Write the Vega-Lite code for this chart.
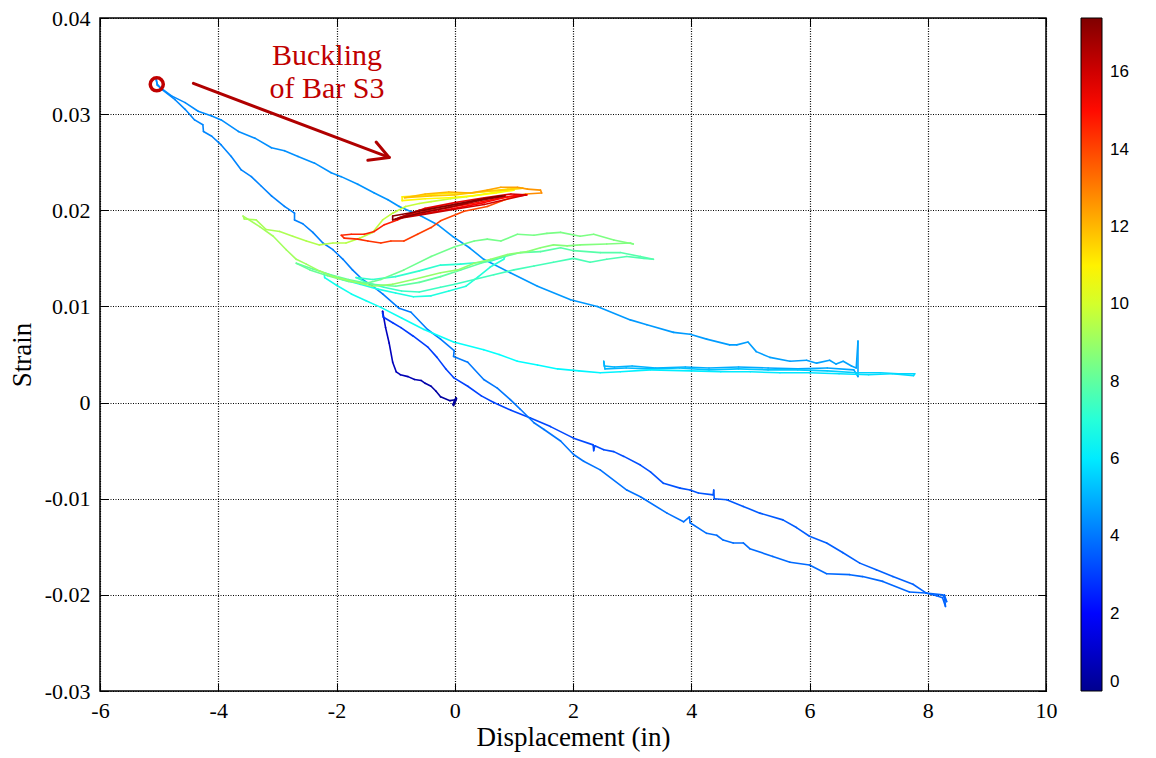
{
  "$schema": "https://vega.github.io/schema/vega-lite/v6.json",
  "width": 946,
  "height": 673,
  "autosize": {"type": "none"},
  "padding": {"left": 100, "top": 18, "right": 110, "bottom": 67},
  "background": "white",
  "config": {"view": {"stroke": "black", "strokeWidth": 1.5}},
  "datasets": {
    "path": [
      {"x":0.00,"y":0.0000,"t":0.00},{"x":0.03,"y":0.0004,"t":0.05},{"x":-0.02,"y":-0.0003,"t":0.10},{"x":0.02,"y":0.0005,"t":0.15},{"x":-0.03,"y":-0.0002,"t":0.20},{"x":0.01,"y":0.0003,"t":0.25},{"x":-0.08,"y":0.0002,"t":0.30},{"x":-0.24,"y":0.0006,"t":0.35},{"x":-0.32,"y":0.0012,"t":0.40},{"x":-0.40,"y":0.0017,"t":0.45},{"x":-0.50,"y":0.0020,"t":0.50},{"x":-0.57,"y":0.0023,"t":0.55},{"x":-0.68,"y":0.0024,"t":0.60},{"x":-0.79,"y":0.0027,"t":0.65},{"x":-0.92,"y":0.0029,"t":0.70},{"x":-0.99,"y":0.0032,"t":0.75},{"x":-1.05,"y":0.0042,"t":0.80},{"x":-1.11,"y":0.0062,"t":0.85},{"x":-1.17,"y":0.0078,"t":0.88},{"x":-1.22,"y":0.0095,"t":0.91},
      {"x":-1.22,"y":0.0093,"t":2.90},{"x":-1.21,"y":0.0089,"t":2.92},{"x":-1.05,"y":0.0083,"t":2.94},{"x":-0.91,"y":0.0078,"t":2.96},{"x":-0.70,"y":0.0069,"t":2.98},{"x":-0.46,"y":0.0058,"t":3.00},{"x":-0.30,"y":0.0047,"t":3.02},{"x":-0.15,"y":0.0035,"t":3.04},{"x":-0.02,"y":0.0026,"t":3.06},{"x":0.22,"y":0.0017,"t":3.08},{"x":0.45,"y":0.0007,"t":3.10},{"x":0.66,"y":0.0000,"t":3.12},{"x":0.95,"y":-0.0008,"t":3.14},{"x":1.28,"y":-0.0016,"t":3.16},{"x":1.62,"y":-0.0025,"t":3.18},{"x":2.01,"y":-0.0037,"t":3.20},{"x":2.34,"y":-0.0044,"t":3.22},{"x":2.35,"y":-0.0050,"t":3.23},{"x":2.37,"y":-0.0045,"t":3.24},{"x":2.52,"y":-0.0049,"t":3.25},{"x":2.69,"y":-0.0051,"t":3.27},{"x":2.86,"y":-0.0056,"t":3.29},{"x":3.14,"y":-0.0065,"t":3.31},{"x":3.31,"y":-0.0072,"t":3.33},{"x":3.53,"y":-0.0084,"t":3.35},{"x":3.81,"y":-0.0089,"t":3.37},{"x":3.98,"y":-0.0091,"t":3.39},{"x":4.12,"y":-0.0094,"t":3.41},{"x":4.37,"y":-0.0096,"t":3.43},{"x":4.38,"y":-0.0091,"t":3.44},{"x":4.39,"y":-0.0100,"t":3.45},{"x":4.60,"y":-0.0101,"t":3.47},{"x":4.88,"y":-0.0108,"t":3.49},{"x":5.16,"y":-0.0115,"t":3.51},{"x":5.55,"y":-0.0122,"t":3.53},{"x":5.78,"y":-0.0130,"t":3.55},{"x":6.00,"y":-0.0139,"t":3.56},{"x":6.29,"y":-0.0146,"t":3.57},{"x":6.56,"y":-0.0156,"t":3.58},{"x":6.85,"y":-0.0167,"t":3.59},{"x":7.13,"y":-0.0174,"t":3.60},{"x":7.41,"y":-0.0181,"t":3.61},{"x":7.75,"y":-0.0189,"t":3.62},{"x":7.97,"y":-0.0198,"t":3.63},{"x":8.15,"y":-0.0201,"t":3.64},{"x":8.25,"y":-0.0203,"t":3.65},{"x":8.30,"y":-0.0212,"t":3.66},{"x":8.28,"y":-0.0200,"t":3.67},{"x":8.32,"y":-0.0207,"t":3.68},
      {"x":8.25,"y":-0.0200,"t":3.70},{"x":7.97,"y":-0.0198,"t":3.71},{"x":7.69,"y":-0.0197,"t":3.72},{"x":7.24,"y":-0.0186,"t":3.73},{"x":6.90,"y":-0.0181,"t":3.74},{"x":6.68,"y":-0.0179,"t":3.75},{"x":6.29,"y":-0.0178,"t":3.76},{"x":6.00,"y":-0.0169,"t":3.77},{"x":5.67,"y":-0.0166,"t":3.78},{"x":5.38,"y":-0.0160,"t":3.79},{"x":4.99,"y":-0.0152,"t":3.80},{"x":4.88,"y":-0.0146,"t":3.81},{"x":4.71,"y":-0.0146,"t":3.82},{"x":4.54,"y":-0.0143,"t":3.83},{"x":4.43,"y":-0.0138,"t":3.84},{"x":4.26,"y":-0.0136,"t":3.85},{"x":3.98,"y":-0.0125,"t":3.86},{"x":3.97,"y":-0.0119,"t":3.87},{"x":3.87,"y":-0.0124,"t":3.88},{"x":3.59,"y":-0.0115,"t":3.89},{"x":3.14,"y":-0.0098,"t":3.90},{"x":2.91,"y":-0.0091,"t":3.91},{"x":2.46,"y":-0.0070,"t":3.92},{"x":2.18,"y":-0.0061,"t":3.93},{"x":2.01,"y":-0.0054,"t":3.94},{"x":1.79,"y":-0.0040,"t":3.95},{"x":1.51,"y":-0.0028,"t":3.96},{"x":1.34,"y":-0.0021,"t":3.97},{"x":1.11,"y":-0.0007,"t":3.98},{"x":0.94,"y":0.0003,"t":3.99},{"x":0.72,"y":0.0015,"t":4.00},{"x":0.49,"y":0.0024,"t":4.01},{"x":0.22,"y":0.0042,"t":4.02},{"x":-0.02,"y":0.0048,"t":4.03},{"x":-0.01,"y":0.0054,"t":4.035},{"x":-0.24,"y":0.0066,"t":4.04},{"x":-0.46,"y":0.0076,"t":4.05},{"x":-0.74,"y":0.0094,"t":4.06},{"x":-0.94,"y":0.0098,"t":4.07},{"x":-1.22,"y":0.0113,"t":4.08},{"x":-1.39,"y":0.0121,"t":4.09},{"x":-1.56,"y":0.0128,"t":4.10},{"x":-1.73,"y":0.0138,"t":4.11},{"x":-1.89,"y":0.0149,"t":4.12},{"x":-2.06,"y":0.0159,"t":4.13},{"x":-2.23,"y":0.0166,"t":4.14},{"x":-2.40,"y":0.0177,"t":4.15},{"x":-2.57,"y":0.0186,"t":4.16},{"x":-2.71,"y":0.0190,"t":4.17},{"x":-2.71,"y":0.0197,"t":4.175},{"x":-2.88,"y":0.0204,"t":4.18},{"x":-3.10,"y":0.0215,"t":4.19},{"x":-3.27,"y":0.0225,"t":4.20},{"x":-3.44,"y":0.0235,"t":4.21},{"x":-3.61,"y":0.0242,"t":4.22},{"x":-3.78,"y":0.0256,"t":4.23},{"x":-3.95,"y":0.0268,"t":4.24},{"x":-4.11,"y":0.0277,"t":4.25},{"x":-4.25,"y":0.0282,"t":4.26},{"x":-4.26,"y":0.0289,"t":4.265},{"x":-4.40,"y":0.0294,"t":4.27},{"x":-4.56,"y":0.0305,"t":4.28},{"x":-4.73,"y":0.0315,"t":4.29},{"x":-4.96,"y":0.0326,"t":4.30},{"x":-5.03,"y":0.0331,"t":4.31},{"x":-5.05,"y":0.0336,"t":4.315},
      {"x":-5.03,"y":0.0330,"t":4.32},{"x":-4.79,"y":0.0319,"t":4.33},{"x":-4.56,"y":0.0312,"t":4.34},{"x":-4.34,"y":0.0303,"t":4.35},{"x":-4.11,"y":0.0298,"t":4.36},{"x":-3.95,"y":0.0294,"t":4.37},{"x":-3.66,"y":0.0282,"t":4.38},{"x":-3.38,"y":0.0275,"t":4.39},{"x":-3.10,"y":0.0265,"t":4.40},{"x":-2.88,"y":0.0262,"t":4.41},{"x":-2.65,"y":0.0256,"t":4.42},{"x":-2.37,"y":0.0249,"t":4.43},{"x":-2.09,"y":0.0239,"t":4.44},{"x":-1.92,"y":0.0235,"t":4.45},{"x":-1.64,"y":0.0227,"t":4.46},{"x":-1.36,"y":0.0218,"t":4.47},{"x":-1.13,"y":0.0211,"t":4.48},{"x":-0.94,"y":0.0204,"t":4.49},{"x":-0.57,"y":0.0194,"t":4.50},{"x":-0.29,"y":0.0185,"t":4.51},{"x":-0.02,"y":0.0172,"t":4.52},{"x":0.25,"y":0.0161,"t":4.53},{"x":0.49,"y":0.0149,"t":4.54},{"x":0.94,"y":0.0135,"t":4.55},{"x":1.40,"y":0.0121,"t":4.56},{"x":1.96,"y":0.0107,"t":4.57},{"x":2.41,"y":0.0100,"t":4.58},{"x":2.97,"y":0.0086,"t":4.59},{"x":3.25,"y":0.0081,"t":4.60},{"x":3.70,"y":0.0073,"t":4.61},{"x":3.98,"y":0.0071,"t":4.62},{"x":4.26,"y":0.0066,"t":4.63},{"x":4.65,"y":0.0060,"t":4.64},{"x":4.77,"y":0.0060,"t":4.65},{"x":4.96,"y":0.0063,"t":4.66},{"x":5.10,"y":0.0053,"t":4.67},{"x":5.33,"y":0.0047,"t":4.68},{"x":5.67,"y":0.0043,"t":4.69},{"x":5.95,"y":0.0044,"t":4.70},{"x":6.12,"y":0.0041,"t":4.71},{"x":6.34,"y":0.0044,"t":4.72},{"x":6.45,"y":0.0040,"t":4.73},{"x":6.57,"y":0.0043,"t":4.74},{"x":6.71,"y":0.0038,"t":4.75},{"x":6.79,"y":0.0036,"t":4.76},{"x":6.82,"y":0.0064,"t":4.77},{"x":6.82,"y":0.0027,"t":4.78},
      {"x":6.75,"y":0.0034,"t":4.80},{"x":6.30,"y":0.0036,"t":4.83},{"x":5.80,"y":0.0035,"t":4.86},{"x":5.30,"y":0.0036,"t":4.89},{"x":4.80,"y":0.0037,"t":4.92},{"x":4.30,"y":0.0036,"t":4.95},{"x":3.90,"y":0.0037,"t":4.98},{"x":3.40,"y":0.0036,"t":5.01},{"x":3.00,"y":0.0038,"t":5.03},{"x":2.70,"y":0.0037,"t":5.05},{"x":2.53,"y":0.0038,"t":5.07},{"x":2.52,"y":0.0043,"t":5.08},{"x":2.54,"y":0.0035,"t":5.09},
      {"x":2.90,"y":0.0036,"t":5.15},{"x":3.30,"y":0.0035,"t":5.20},{"x":3.80,"y":0.0036,"t":5.25},{"x":4.30,"y":0.0034,"t":5.30},{"x":4.80,"y":0.0035,"t":5.35},{"x":5.30,"y":0.0034,"t":5.40},{"x":5.80,"y":0.0034,"t":5.45},{"x":6.30,"y":0.0033,"t":5.50},{"x":6.80,"y":0.0031,"t":5.55},{"x":7.20,"y":0.0031,"t":5.60},{"x":7.50,"y":0.0030,"t":5.65},{"x":7.78,"y":0.0030,"t":5.70},{"x":7.76,"y":0.0028,"t":5.72},
      {"x":7.40,"y":0.0030,"t":5.80},{"x":7.00,"y":0.0029,"t":5.84},{"x":6.50,"y":0.0030,"t":5.88},{"x":6.00,"y":0.0031,"t":5.92},{"x":5.50,"y":0.0031,"t":5.96},{"x":5.00,"y":0.0032,"t":6.00},{"x":4.50,"y":0.0032,"t":6.04},{"x":4.00,"y":0.0033,"t":6.08},{"x":3.31,"y":0.0034,"t":6.12},{"x":2.80,"y":0.0032,"t":6.16},{"x":2.46,"y":0.0031,"t":6.20},{"x":2.10,"y":0.0033,"t":6.24},{"x":1.74,"y":0.0035,"t":6.28},{"x":1.40,"y":0.0039,"t":6.32},{"x":1.06,"y":0.0043,"t":6.36},{"x":0.75,"y":0.0050,"t":6.40},{"x":0.49,"y":0.0055,"t":6.44},{"x":-0.02,"y":0.0063,"t":6.48},{"x":-0.52,"y":0.0076,"t":6.52},{"x":-0.90,"y":0.0088,"t":6.55},{"x":-1.25,"y":0.0099,"t":6.58},{"x":-1.50,"y":0.0106,"t":6.61},{"x":-1.75,"y":0.0113,"t":6.64},{"x":-2.00,"y":0.0122,"t":6.67},{"x":-2.20,"y":0.0130,"t":6.70},
      {"x":-2.21,"y":0.0135,"t":6.72},{"x":-1.90,"y":0.0128,"t":6.75},{"x":-1.60,"y":0.0123,"t":6.78},{"x":-1.30,"y":0.0118,"t":6.81},{"x":-1.00,"y":0.0114,"t":6.84},{"x":-0.70,"y":0.0110,"t":6.87},{"x":-0.40,"y":0.0111,"t":6.90},{"x":-0.10,"y":0.0116,"t":6.93},{"x":0.19,"y":0.0121,"t":6.96},{"x":0.40,"y":0.0131,"t":6.99},{"x":0.60,"y":0.0141,"t":7.02},{"x":0.83,"y":0.0149,"t":7.05},{"x":0.85,"y":0.0152,"t":7.06},
      {"x":0.60,"y":0.0147,"t":7.08},{"x":0.44,"y":0.0146,"t":7.10},{"x":0.10,"y":0.0144,"t":7.13},{"x":-0.24,"y":0.0143,"t":7.16},{"x":-0.60,"y":0.0137,"t":7.19},{"x":-1.00,"y":0.0131,"t":7.22},{"x":-1.39,"y":0.0128,"t":7.25},{"x":-1.67,"y":0.0130,"t":7.28},
      {"x":-1.50,"y":0.0125,"t":7.30},{"x":-1.20,"y":0.0120,"t":7.33},{"x":-0.90,"y":0.0116,"t":7.36},{"x":-0.60,"y":0.0115,"t":7.39},{"x":-0.24,"y":0.0120,"t":7.42},{"x":0.00,"y":0.0123,"t":7.45},{"x":0.33,"y":0.0128,"t":7.48},{"x":0.66,"y":0.0133,"t":7.51},{"x":1.00,"y":0.0138,"t":7.54},{"x":1.34,"y":0.0142,"t":7.57},{"x":1.67,"y":0.0146,"t":7.60},{"x":2.01,"y":0.0150,"t":7.63},{"x":2.29,"y":0.0146,"t":7.66},{"x":2.57,"y":0.0149,"t":7.69},{"x":2.91,"y":0.0152,"t":7.72},{"x":3.20,"y":0.0150,"t":7.75},{"x":3.36,"y":0.0149,"t":7.78},
      {"x":3.14,"y":0.0152,"t":7.80},{"x":2.80,"y":0.0156,"t":7.82},{"x":2.46,"y":0.0156,"t":7.84},{"x":2.01,"y":0.0158,"t":7.86},{"x":1.79,"y":0.0161,"t":7.88},{"x":1.45,"y":0.0157,"t":7.90},{"x":1.11,"y":0.0156,"t":7.92},{"x":0.78,"y":0.0151,"t":7.94},{"x":0.44,"y":0.0145,"t":7.96},{"x":0.10,"y":0.0138,"t":7.98},{"x":-0.24,"y":0.0131,"t":8.00},{"x":-0.60,"y":0.0125,"t":8.02},{"x":-1.00,"y":0.0121,"t":8.04},{"x":-1.40,"y":0.0123,"t":8.06},{"x":-1.80,"y":0.0128,"t":8.08},{"x":-2.10,"y":0.0133,"t":8.10},{"x":-2.40,"y":0.0139,"t":8.12},{"x":-2.68,"y":0.0145,"t":8.14},
      {"x":-2.45,"y":0.0138,"t":8.16},{"x":-2.15,"y":0.0132,"t":8.18},{"x":-1.80,"y":0.0126,"t":8.20},{"x":-1.50,"y":0.0124,"t":8.22},{"x":-1.25,"y":0.0128,"t":8.24},{"x":-0.86,"y":0.0138,"t":8.27},{"x":-0.40,"y":0.0152,"t":8.30},{"x":0.00,"y":0.0162,"t":8.33},{"x":0.33,"y":0.0168,"t":8.36},{"x":0.55,"y":0.0170,"t":8.38},{"x":0.78,"y":0.0168,"t":8.40},{"x":1.06,"y":0.0175,"t":8.42},{"x":1.34,"y":0.0174,"t":8.44},{"x":1.56,"y":0.0176,"t":8.46},{"x":1.79,"y":0.0177,"t":8.48},{"x":2.12,"y":0.0173,"t":8.50},{"x":2.35,"y":0.0175,"t":8.52},{"x":2.69,"y":0.0169,"t":8.54},{"x":3.02,"y":0.0165,"t":8.56},
      {"x":2.97,"y":0.0166,"t":8.58},{"x":2.57,"y":0.0165,"t":8.61},{"x":2.12,"y":0.0164,"t":8.64},{"x":1.90,"y":0.0163,"t":8.67},{"x":1.67,"y":0.0164,"t":8.70},{"x":1.45,"y":0.0161,"t":8.73},{"x":1.23,"y":0.0157,"t":8.76},{"x":0.89,"y":0.0154,"t":8.79},{"x":0.61,"y":0.0149,"t":8.82},{"x":0.33,"y":0.0145,"t":8.85},{"x":0.05,"y":0.0138,"t":8.88},{"x":-0.24,"y":0.0135,"t":8.91},{"x":-0.70,"y":0.0128,"t":8.94},{"x":-1.05,"y":0.0123,"t":8.97},{"x":-1.39,"y":0.0121,"t":9.00},{"x":-1.73,"y":0.0126,"t":9.03},{"x":-2.06,"y":0.0131,"t":9.06},{"x":-2.29,"y":0.0137,"t":9.09},{"x":-2.51,"y":0.0144,"t":9.12},{"x":-2.68,"y":0.0149,"t":9.14},{"x":-2.85,"y":0.0159,"t":9.16},{"x":-3.07,"y":0.0173,"t":9.18},{"x":-3.30,"y":0.0183,"t":9.20},{"x":-3.58,"y":0.0194,"t":9.22},{"x":-3.56,"y":0.0191,"t":9.23},
      {"x":-3.36,"y":0.0190,"t":9.26},{"x":-3.19,"y":0.0180,"t":9.30},{"x":-2.96,"y":0.0178,"t":9.34},{"x":-2.74,"y":0.0173,"t":9.38},{"x":-2.51,"y":0.0168,"t":9.42},{"x":-2.29,"y":0.0164,"t":9.46},{"x":-2.06,"y":0.0166,"t":9.50},{"x":-1.84,"y":0.0166,"t":9.54},{"x":-1.61,"y":0.0171,"t":9.58},{"x":-1.39,"y":0.0177,"t":9.62},{"x":-1.22,"y":0.0190,"t":9.66},{"x":-1.05,"y":0.0197,"t":9.70},{"x":-0.83,"y":0.0204,"t":9.74},{"x":-0.60,"y":0.0207,"t":9.78},{"x":-0.40,"y":0.0209,"t":9.82},{"x":-0.07,"y":0.0212,"t":9.86},{"x":0.20,"y":0.0214,"t":9.90},
      {"x":0.50,"y":0.0217,"t":10.60},{"x":0.80,"y":0.0220,"t":10.65},{"x":1.00,"y":0.0221,"t":10.70},{"x":0.70,"y":0.0218,"t":10.75},{"x":0.30,"y":0.0215,"t":10.80},{"x":-0.10,"y":0.0213,"t":10.85},{"x":-0.50,"y":0.0212,"t":10.90},{"x":-0.89,"y":0.0210,"t":10.95},{"x":-0.89,"y":0.0214,"t":11.00},{"x":-0.60,"y":0.0215,"t":11.05},{"x":-0.30,"y":0.0217,"t":11.10},{"x":0.00,"y":0.0218,"t":11.20},{"x":0.30,"y":0.0218,"t":11.30},{"x":0.60,"y":0.0220,"t":11.40},{"x":0.90,"y":0.0222,"t":11.50},{"x":1.15,"y":0.0223,"t":11.55},{"x":0.80,"y":0.0221,"t":11.60},{"x":0.40,"y":0.0219,"t":11.70},{"x":0.00,"y":0.0216,"t":11.75},{"x":-0.40,"y":0.0215,"t":11.80},{"x":-0.85,"y":0.0213,"t":11.90},
      {"x":-0.50,"y":0.0217,"t":12.00},{"x":-0.10,"y":0.0219,"t":12.10},{"x":0.27,"y":0.0218,"t":12.20},{"x":0.55,"y":0.0221,"t":12.30},{"x":0.78,"y":0.0224,"t":12.40},{"x":1.06,"y":0.0224,"t":12.50},{"x":1.23,"y":0.0222,"t":12.60},{"x":1.45,"y":0.0221,"t":12.70},{"x":1.47,"y":0.0218,"t":12.75},{"x":1.20,"y":0.0217,"t":12.85},{"x":1.00,"y":0.0214,"t":12.95},
      {"x":0.80,"y":0.0210,"t":13.90},{"x":0.55,"y":0.0204,"t":13.95},{"x":0.16,"y":0.0199,"t":14.00},{"x":-0.24,"y":0.0189,"t":14.05},{"x":-0.40,"y":0.0182,"t":14.10},{"x":-0.63,"y":0.0175,"t":14.15},{"x":-0.86,"y":0.0168,"t":14.20},{"x":-1.08,"y":0.0168,"t":14.25},{"x":-1.25,"y":0.0166,"t":14.30},{"x":-1.47,"y":0.0168,"t":14.35},{"x":-1.64,"y":0.0170,"t":14.40},{"x":-1.87,"y":0.0171,"t":14.45},{"x":-1.92,"y":0.0174,"t":14.50},
      {"x":-1.75,"y":0.0175,"t":14.55},{"x":-1.53,"y":0.0175,"t":14.60},{"x":-1.36,"y":0.0178,"t":14.65},{"x":-1.19,"y":0.0185,"t":14.70},{"x":-0.97,"y":0.0190,"t":14.75},{"x":-0.74,"y":0.0196,"t":14.80},{"x":-0.40,"y":0.0200,"t":14.85},{"x":-0.10,"y":0.0203,"t":14.90},{"x":0.30,"y":0.0207,"t":14.95},{"x":0.70,"y":0.0212,"t":15.00},{"x":1.00,"y":0.0215,"t":15.03},{"x":1.22,"y":0.0216,"t":15.06},
      {"x":0.90,"y":0.0214,"t":15.10},{"x":0.50,"y":0.0208,"t":15.20},{"x":0.00,"y":0.0202,"t":15.30},{"x":-0.50,"y":0.0197,"t":15.40},{"x":-0.95,"y":0.0192,"t":15.50},{"x":-0.50,"y":0.0202,"t":15.60},{"x":0.00,"y":0.0208,"t":15.70},{"x":0.50,"y":0.0213,"t":15.80},{"x":0.95,"y":0.0217,"t":15.90},{"x":1.20,"y":0.0216,"t":15.95},{"x":0.50,"y":0.0206,"t":16.05},{"x":0.00,"y":0.0201,"t":16.15},{"x":-0.50,"y":0.0196,"t":16.25},{"x":-1.00,"y":0.0191,"t":16.35},{"x":-0.60,"y":0.0200,"t":16.45},{"x":-0.20,"y":0.0204,"t":16.55},{"x":0.20,"y":0.0208,"t":16.65},{"x":0.60,"y":0.0213,"t":16.75},{"x":0.85,"y":0.0215,"t":16.85},{"x":0.40,"y":0.0210,"t":16.95},{"x":-0.10,"y":0.0203,"t":17.05},{"x":-0.60,"y":0.0197,"t":17.15},{"x":-1.05,"y":0.0190,"t":17.22},{"x":-1.05,"y":0.0194,"t":17.26},{"x":-0.60,"y":0.0199,"t":17.30},{"x":-0.10,"y":0.0205,"t":17.34},{"x":0.40,"y":0.0211,"t":17.37},{"x":0.80,"y":0.0215,"t":17.40}
    ],
    "arrow": [
      {"xs":-4.42,"ys":0.0332,"xe":-1.11,"ye":0.0255},
      {"xs":-1.11,"ys":0.0255,"xe":-1.47,"ye":0.0252},
      {"xs":-1.11,"ys":0.0255,"xe":-1.33,"ye":0.0271}
    ],
    "notes": [
      {"x":-2.16,"y":0.0360,"label":"Buckling"},
      {"x":-2.16,"y":0.0326,"label":"of Bar S3"}
    ],
    "marker": [{"x":-5.04,"y":0.0331}]
  },
  "resolve": {"axis": {"x": "independent", "y": "independent"}},
  "layer": [
    {
      "data": {"name": "path"},
      "transform": [
        {"window": [{"op": "lead", "field": "x", "as": "xn"}, {"op": "lead", "field": "y", "as": "yn"}], "sort": [{"field": "t", "order": "ascending"}]},
        {"filter": "isValid(datum.xn)"}
      ],
      "mark": {"type": "rule", "strokeWidth": 1.6, "strokeCap": "round"},
      "encoding": {
        "x": {"field": "x", "type": "quantitative", "scale": {"domain": [-6, 10], "nice": false, "zero": false},
          "axis": {"orient": "bottom", "values": [-6,-4,-2,0,2,4,6,8,10], "labelExpr": "datum.value + ''", "title": "Displacement (in)",
            "grid": true, "gridColor": "black", "gridDash": [1, 1.5], "gridOpacity": 1, "gridWidth": 1.2,
            "domain": false, "ticks": true, "tickSize": -8, "tickColor": "black", "labelFlush": false,
            "labelFont": "Liberation Serif", "labelFontSize": 22, "labelColor": "black", "labelPadding": 17,
            "titleFont": "Liberation Serif", "titleFontSize": 27, "titleFontWeight": "normal", "titleColor": "black", "titlePadding": 3}},
        "y": {"field": "y", "type": "quantitative", "scale": {"domain": [-0.03, 0.04], "nice": false, "zero": false},
          "axis": {"orient": "left", "values": [-0.03,-0.02,-0.01,0,0.01,0.02,0.03,0.04], "labelExpr": "datum.value + ''", "title": "Strain",
            "grid": true, "gridColor": "black", "gridDash": [1, 1.5], "gridOpacity": 1, "gridWidth": 1.2,
            "domain": false, "ticks": true, "tickSize": -8, "tickColor": "black", "labelFlush": false,
            "labelFont": "Liberation Serif", "labelFontSize": 22, "labelColor": "black", "labelPadding": 18,
            "titleFont": "Liberation Serif", "titleFontSize": 27, "titleFontWeight": "normal", "titleColor": "black", "titlePadding": 8}},
        "x2": {"field": "xn"},
        "y2": {"field": "yn"},
        "color": {"field": "t", "type": "quantitative",
          "scale": {"type": "linear", "interpolate": "rgb", "domain": [0, 1.93, 6.35, 10.77, 15.19, 17.4], "range": ["#00008f", "#0000ff", "#00ffff", "#ffff00", "#ff0000", "#800000"]},
          "legend": {"title": null, "values": [0,2,4,6,8,10,12,14,16], "gradientLength": 673, "gradientThickness": 21,
            "labelFont": "Liberation Sans", "labelFontSize": 17, "labelColor": "black", "labelOffset": 8,
            "gradientStrokeColor": "black", "gradientStrokeWidth": 1, "offset": 34, "padding": 0}}
      }
    },
    {
      "data": {"name": "marker"},
      "mark": {"type": "point", "shape": "circle", "filled": false, "size": 170, "strokeWidth": 3.5, "color": "#c00000", "opacity": 1},
      "encoding": {
        "x": {"field": "x", "type": "quantitative", "scale": {"domain": [-6, 10], "nice": false, "zero": false},
          "axis": {"orient": "top", "values": [-6,-4,-2,0,2,4,6,8,10], "labels": false, "grid": false, "domain": false, "ticks": true, "tickSize": -8, "tickColor": "black", "title": null}},
        "y": {"field": "y", "type": "quantitative", "scale": {"domain": [-0.03, 0.04], "nice": false, "zero": false},
          "axis": {"orient": "right", "values": [-0.03,-0.02,-0.01,0,0.01,0.02,0.03,0.04], "labels": false, "grid": false, "domain": false, "ticks": true, "tickSize": -8, "tickColor": "black", "title": null}}
      }
    },
    {
      "data": {"name": "arrow"},
      "mark": {"type": "rule", "strokeWidth": 3, "color": "#b00000", "strokeCap": "round"},
      "encoding": {
        "x": {"field": "xs", "type": "quantitative", "scale": {"domain": [-6, 10], "nice": false, "zero": false}, "axis": null},
        "y": {"field": "ys", "type": "quantitative", "scale": {"domain": [-0.03, 0.04], "nice": false, "zero": false}, "axis": null},
        "x2": {"field": "xe"},
        "y2": {"field": "ye"}
      }
    },
    {
      "data": {"name": "notes"},
      "mark": {"type": "text", "font": "Liberation Serif", "fontSize": 30, "color": "#c00000", "align": "center", "baseline": "middle"},
      "encoding": {
        "x": {"field": "x", "type": "quantitative", "scale": {"domain": [-6, 10], "nice": false, "zero": false}, "axis": null},
        "y": {"field": "y", "type": "quantitative", "scale": {"domain": [-0.03, 0.04], "nice": false, "zero": false}, "axis": null},
        "text": {"field": "label"}
      }
    }
  ]
}
